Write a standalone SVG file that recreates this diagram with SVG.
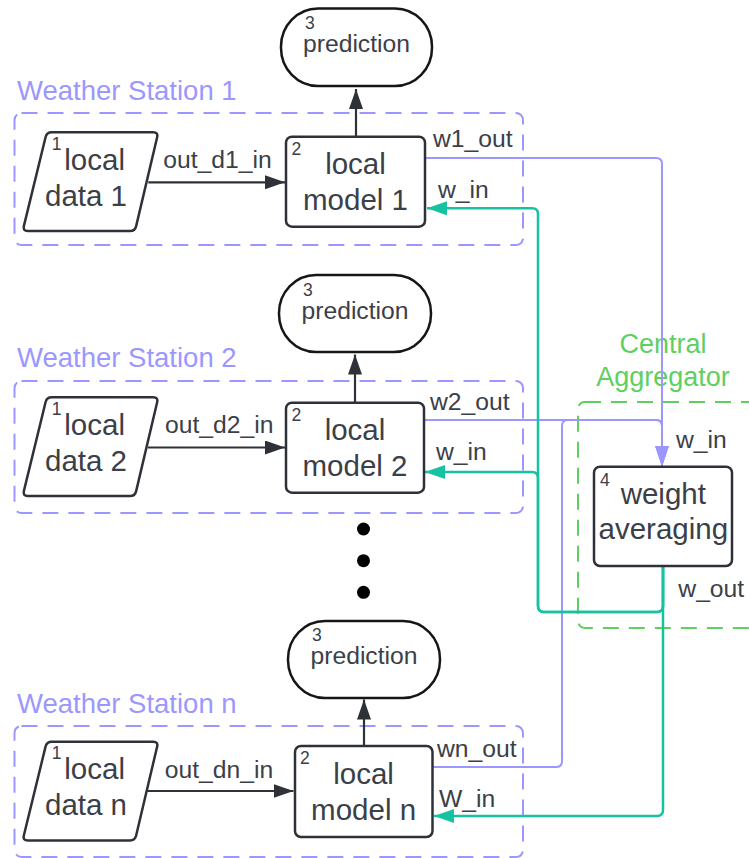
<svg xmlns="http://www.w3.org/2000/svg" width="749" height="858" viewBox="0 0 749 858">
  <defs>
    <style>
      text { font-family: "Liberation Sans", Arial, sans-serif; fill: #3b4048; }
      .node { font-size: 29.5px; }
      .mid { text-anchor: middle; }
      .num { font-size: 17.5px; }
      .lbl { font-size: 24.7px; }
      .station-title { font-size: 27.5px; fill: #9b97ff; }
      .agg-title { font-size: 27px; fill: #5fcf5f; text-anchor: middle; }
      .station { fill: none; stroke: #9b97ff; stroke-width: 2; stroke-dasharray: 16 10; }
      .agg { fill: none; stroke: #5fcf5f; stroke-width: 2; stroke-dasharray: 16 10; }
      .box { fill: #ffffff; stroke: #2e3238; stroke-width: 2.5; }
      .term { fill: #ffffff; stroke: #161616; stroke-width: 2.5; }
      .dark { fill: none; stroke: #2e3238; stroke-width: 2.2; }
      .purple { fill: none; stroke: #9b97ff; stroke-width: 2; }
      .teal { fill: none; stroke: #17c2a2; stroke-width: 2.5; }
    </style>
    <marker id="ah-dark" viewBox="0 0 20 14" refX="20" refY="7" markerWidth="20" markerHeight="14" markerUnits="userSpaceOnUse" orient="auto">
      <path d="M0,0 L20,7 L0,14 Z" fill="#2e3238"/>
    </marker>
    <marker id="ah-purple" viewBox="0 0 21 14" refX="21" refY="7" markerWidth="21" markerHeight="14" markerUnits="userSpaceOnUse" orient="auto">
      <path d="M0,0 L21,7 L0,14 Z" fill="#9b97ff"/>
    </marker>
    <marker id="ah-teal" viewBox="0 0 20 14" refX="20" refY="7" markerWidth="20" markerHeight="14" markerUnits="userSpaceOnUse" orient="auto">
      <path d="M0,0 L20,7 L0,14 Z" fill="#17c2a2"/>
    </marker>
    <!-- slanted data shape, rounded corners -->
    <path id="data-shape" d="M51.7,132.3 H153.3 Q158.3,132.3 157.15,137.2 L136.15,226.1 Q135,231 130,231 H27.7 Q22.7,231 23.85,226.1 L45.55,137.2 Q46.7,132.3 51.7,132.3 Z"/>
  </defs>

  <rect width="749" height="858" fill="#ffffff"/>

  <!-- containers -->
  <g id="station1">
    <rect class="station" x="14.5" y="113" width="508.5" height="132" rx="7"/>
    <text class="station-title" x="17" y="100">Weather Station 1</text>
  </g>
  <g id="station2">
    <rect class="station" x="14.5" y="381" width="508.5" height="132" rx="7"/>
    <text class="station-title" x="17" y="367">Weather Station 2</text>
  </g>
  <g id="stationn">
    <rect class="station" x="14.5" y="726" width="508.5" height="131" rx="7"/>
    <text class="station-title" x="17" y="712.5">Weather Station n</text>
  </g>
  <g id="aggregator">
    <rect class="agg" x="578" y="402" width="200" height="226" rx="7"/>
    <text class="agg-title" x="663" y="352.5">Central</text>
    <text class="agg-title" x="663" y="386">Aggregator</text>
  </g>

  <!-- connectors -->
  <g id="connectors">
    <path class="dark" d="M148.3,182.3 H285" marker-end="url(#ah-dark)"/>
    <path class="dark" d="M356,136.7 V89" marker-end="url(#ah-dark)"/>
    <path class="dark" d="M148,447.5 H285" marker-end="url(#ah-dark)"/>
    <path class="dark" d="M355,402.7 V354.5" marker-end="url(#ah-dark)"/>
    <path class="dark" d="M147,791 H293.5" marker-end="url(#ah-dark)"/>
    <path class="dark" d="M364,745.5 V699.5" marker-end="url(#ah-dark)"/>

    <path class="purple" d="M425,158 H656 Q662,158 662,164 V466.5" marker-end="url(#ah-purple)"/>
    <path class="purple" d="M424,420 H656 Q662,420 662,426 V466.5" marker-end="url(#ah-purple)"/>
    <path class="purple" d="M433,767 H556 Q562,767 562,761 V426 Q562,420 568,420 H656 Q662,420 662,426 V466.5" marker-end="url(#ah-purple)"/>

    <path class="teal" d="M663,566 V606 Q663,612 657,612 H544 Q538,612 538,606 V214 Q538,208.3 532,208.3 H427" marker-end="url(#ah-teal)"/>
    <path class="teal" d="M663,566 V606 Q663,612 657,612 H544 Q538,612 538,606 V478 Q538,472 532,472 H425" marker-end="url(#ah-teal)"/>
    <path class="teal" d="M663,566 V810 Q663,816 657,816 H434" marker-end="url(#ah-teal)"/>

    <text class="lbl" x="163.3" y="167.7">out_d1_in</text>
    <text class="lbl" x="165" y="432.7">out_d2_in</text>
    <text class="lbl" x="164.8" y="777.5">out_dn_in</text>
    <text class="lbl" x="433" y="147">w1_out</text>
    <text class="lbl" x="438" y="197.7">w_in</text>
    <text class="lbl" x="430" y="410">w2_out</text>
    <text class="lbl" x="436" y="460">w_in</text>
    <text class="lbl" x="437" y="757.3">wn_out</text>
    <text class="lbl" x="439" y="806.7">W_in</text>
    <text class="lbl" x="676" y="448.3">w_in</text>
    <text class="lbl" x="678.3" y="596.7">w_out</text>
  </g>

  <!-- station 1 nodes -->
  <g id="data1">
    <use href="#data-shape" class="box"/>
    <text class="num" x="51.7" y="150">1</text>
    <text class="node" x="64.3" y="170">local</text>
    <text class="node" x="45" y="206">data 1</text>
  </g>
  <g id="model1">
    <rect class="box" x="286" y="136.7" width="139" height="90" rx="6"/>
    <text class="num" x="291.5" y="155">2</text>
    <text class="node mid" x="355.5" y="174.3">local</text>
    <text class="node mid" x="355.5" y="210">model 1</text>
  </g>
  <g id="prediction1">
    <rect class="term" x="281" y="8.5" width="151" height="77.5" rx="37" ry="38"/>
    <text class="num" x="305" y="29">3</text>
    <text class="lbl mid" x="356.5" y="52">prediction</text>
  </g>

  <!-- station 2 nodes -->
  <g id="data2">
    <use href="#data-shape" class="box" transform="translate(0,265)"/>
    <text class="num" x="51.7" y="415">1</text>
    <text class="node" x="64.3" y="435">local</text>
    <text class="node" x="45" y="471">data 2</text>
  </g>
  <g id="model2">
    <rect class="box" x="286" y="402.7" width="138" height="90" rx="6"/>
    <text class="num" x="291.5" y="421">2</text>
    <text class="node mid" x="355" y="440">local</text>
    <text class="node mid" x="355" y="476">model 2</text>
  </g>
  <g id="prediction2">
    <rect class="term" x="279" y="275" width="152" height="77" rx="37" ry="38"/>
    <text class="num" x="303" y="295.5">3</text>
    <text class="lbl mid" x="355" y="318.5">prediction</text>
  </g>

  <!-- omitted stations -->
  <g id="ellipsis">
    <circle cx="363.5" cy="529" r="6.5" fill="#000000"/>
    <circle cx="363.5" cy="560.7" r="6.5" fill="#000000"/>
    <circle cx="363.5" cy="592.3" r="6.5" fill="#000000"/>
  </g>

  <!-- station n nodes -->
  <g id="datan">
    <use href="#data-shape" class="box" transform="translate(0,609.4)"/>
    <text class="num" x="51.7" y="759.4">1</text>
    <text class="node" x="64.3" y="779.4">local</text>
    <text class="node" x="45" y="815.4">data n</text>
  </g>
  <g id="modeln">
    <rect class="box" x="295" y="746" width="137.5" height="91" rx="6"/>
    <text class="num" x="300" y="764">2</text>
    <text class="node mid" x="363.6" y="783.5">local</text>
    <text class="node mid" x="363.6" y="819.5">model n</text>
  </g>
  <g id="predictionn">
    <rect class="term" x="288" y="621" width="152" height="77" rx="37" ry="38"/>
    <text class="num" x="312" y="641">3</text>
    <text class="lbl mid" x="364" y="664">prediction</text>
  </g>

  <!-- aggregator node -->
  <g id="weightavg">
    <rect class="box" x="594" y="466.7" width="138" height="99.3" rx="6"/>
    <text class="num" x="600" y="486">4</text>
    <text class="node mid" x="663.3" y="503.5">weight</text>
    <text class="node mid" x="663.3" y="539">averaging</text>
  </g>
</svg>
